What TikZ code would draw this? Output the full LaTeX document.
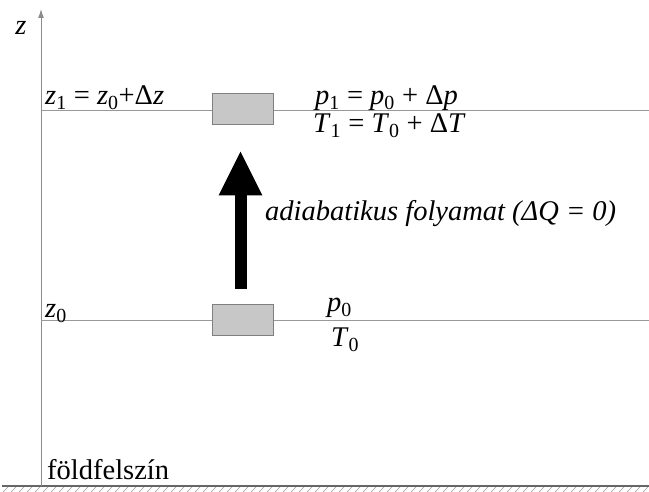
\documentclass[tikz,border=0pt]{standalone}
\usepackage{fontspec}
\setmainfont{Liberation Serif}
\usetikzlibrary{arrows.meta}
\begin{document}
\begin{tikzpicture}[x=1pt,y=1pt,
  txt/.style={inner sep=0pt, anchor=base west, font=\fontsize{28.5}{34}\selectfont},
  level/.style={draw=black!40, line width=1pt},
  parcel/.style={draw=black!50, fill=black!22, line width=0.8pt, minimum width=61pt, minimum height=31pt, inner sep=0pt},
  bigarrow/.style={line width=12pt, -{Triangle[width=40pt,length=45pt]}},
  axisline/.style={draw=black!45, line width=1pt, -{Latex[length=9pt,width=6pt]}}]
\useasboundingbox (0,0) rectangle (649,492);
% ground
\coordinate (g0) at (2,6);
\coordinate (g1) at (649,6);
\draw[black!60, line width=1.6pt] (g0) -- (g1);
\foreach \x in {8,16,...,648} \draw[black!40, line width=0.6pt] (\x,5) -- (\x-5,0);
% axis
\coordinate (ax0) at (41,6);
\coordinate (ax1) at (41,483);
\draw[axisline] (ax0) -- (ax1);
\node[txt, anchor=center] (zlab) at (21,464) {\textit{z}};
% levels
\coordinate (l1a) at (41,381);
\coordinate (l1b) at (649,381);
\coordinate (l0a) at (41,171);
\coordinate (l0b) at (649,171);
\draw[level] (l1a) -- (l1b);
\draw[level] (l0a) -- (l0b);
% parcels
\node[parcel] (b1) at (242.5,383.5) {};
\node[parcel] (b0) at (242.5,172) {};
% arrow
\draw[bigarrow] ([yshift=15.5pt]b0.north -| 240.5,0) -- ([yshift=-26pt]b1.south -| 240.5,0);
% labels
\node[txt] (z1) at (45,387) {\textit{z}\textsubscript{1} = \textit{z}\textsubscript{0}+Δ\textit{z}};
\node[txt] (p1) at (315,387) {\textit{p}\textsubscript{1} = \textit{p}\textsubscript{0} + Δ\textit{p}};
\node[txt] (T1) at (313,359) {\textit{T}\textsubscript{1} = \textit{T}\textsubscript{0} + Δ\textit{T}};
\node[txt] (adi) at (265,271) {\textit{adiabatikus folyamat (ΔQ = 0)}};
\node[txt] (z0) at (45,174) {\textit{z}\textsubscript{0}};
\node[txt] (p0) at (327,180) {\textit{p}\textsubscript{0}};
\node[txt] (T0) at (331,145) {\textit{T}\textsubscript{0}};
\node[txt] (ground) at (47,12) {földfelszín};
\end{tikzpicture}
\end{document}
